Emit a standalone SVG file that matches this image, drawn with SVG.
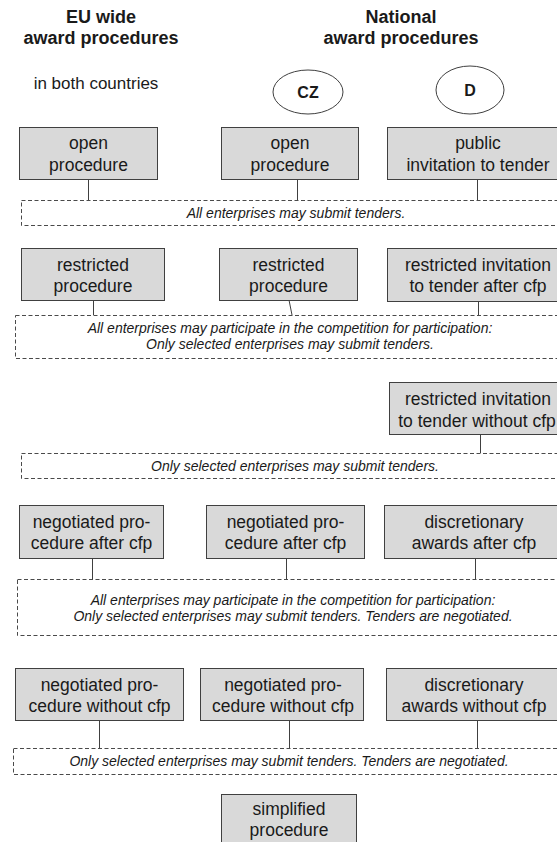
<svg xmlns="http://www.w3.org/2000/svg" width="557" height="842" viewBox="0 0 557 842">
<style>
  text { font-family: "Liberation Sans", Arial, sans-serif; fill: #1a1a1a; text-anchor: middle; }
  .hd { font-size: 18px; font-weight: bold; }
  .sub { font-size: 17px; }
  .cc { font-size: 16px; font-weight: bold; }
  .bx { fill: #d9d9d9; stroke: #404040; stroke-width: 1; }
  .bt { font-size: 17.5px; }
  .ell { fill: #ffffff; stroke: #404040; stroke-width: 1; }
  .dash { fill: none; stroke: #4a4a4a; stroke-width: 1; stroke-dasharray: 4 2.5; }
  .dt { font-size: 14px; font-style: italic; }
  .con { stroke: #404040; stroke-width: 1; fill: none; }
</style>
<rect x="0" y="0" width="557" height="842" fill="#ffffff"/>

<g id="headers">
  <text class="hd" x="101" y="23">EU wide</text>
  <text class="hd" x="101" y="44">award procedures</text>
  <text class="hd" x="401" y="23">National</text>
  <text class="hd" x="401" y="44">award procedures</text>
  <text class="sub" x="96" y="89">in both countries</text>
</g>

<g id="cz">
  <ellipse class="ell" cx="308" cy="92" rx="35" ry="22"/>
  <text class="cc" x="308" y="98">CZ</text>
</g>
<g id="d">
  <ellipse class="ell" cx="470" cy="90" rx="34" ry="24"/>
  <text class="cc" x="470" y="96">D</text>
</g>

<g id="connectors">
  <line class="con" x1="88.5" y1="179" x2="88.5" y2="200"/>
  <line class="con" x1="297.5" y1="179" x2="297.5" y2="200"/>
  <line class="con" x1="477.5" y1="179" x2="477.5" y2="200"/>
  <line class="con" x1="93.5" y1="300" x2="93.5" y2="315"/>
  <line class="con" x1="289" y1="300" x2="292" y2="315"/>
  <line class="con" x1="478.5" y1="301" x2="478.5" y2="315"/>
  <line class="con" x1="480.5" y1="434" x2="480.5" y2="453"/>
  <line class="con" x1="92.5" y1="558" x2="92.5" y2="579"/>
  <line class="con" x1="286.5" y1="558" x2="286.5" y2="579"/>
  <line class="con" x1="475.5" y1="558" x2="475.5" y2="579"/>
  <line class="con" x1="99.5" y1="720" x2="99.5" y2="748"/>
  <line class="con" x1="289.5" y1="720" x2="289.5" y2="748"/>
  <line class="con" x1="477.5" y1="720" x2="477.5" y2="748"/>
</g>

<g id="eu-open">
  <rect class="bx" x="19.5" y="127.5" width="138" height="52"/>
  <text class="bt" x="88.5" y="149">open</text>
  <text class="bt" x="88.5" y="171">procedure</text>
</g>
<g id="cz-open">
  <rect class="bx" x="221.5" y="127.5" width="137" height="52"/>
  <text class="bt" x="290" y="149">open</text>
  <text class="bt" x="290" y="171">procedure</text>
</g>
<g id="d-public">
  <rect class="bx" x="387.5" y="127.5" width="185" height="52"/>
  <text class="bt" x="478" y="149">public</text>
  <text class="bt" x="478" y="171">invitation to tender</text>
</g>
<g id="note-open">
  <rect class="dash" x="21.5" y="200.5" width="550" height="25"/>
  <text class="dt" x="296" y="218">All enterprises may submit tenders.</text>
</g>

<g id="eu-restricted">
  <rect class="bx" x="21.5" y="248.5" width="143" height="52"/>
  <text class="bt" x="93" y="271">restricted</text>
  <text class="bt" x="93" y="292">procedure</text>
</g>
<g id="cz-restricted">
  <rect class="bx" x="219.5" y="248.5" width="138" height="52"/>
  <text class="bt" x="288.5" y="271">restricted</text>
  <text class="bt" x="288.5" y="292">procedure</text>
</g>
<g id="d-restricted">
  <rect class="bx" x="387.5" y="248.5" width="185" height="53"/>
  <text class="bt" x="478" y="271">restricted invitation</text>
  <text class="bt" x="478" y="292">to tender after cfp</text>
</g>
<g id="note-restricted">
  <rect class="dash" x="15.5" y="315.5" width="556" height="43"/>
  <text class="dt" x="290" y="333">All enterprises may participate in the competition for participation:</text>
  <text class="dt" x="290" y="349">Only selected enterprises may submit tenders.</text>
</g>

<g id="d-restricted-nocfp">
  <rect class="bx" x="389.5" y="382.5" width="185" height="52"/>
  <text class="bt" x="478" y="405">restricted invitation</text>
  <text class="bt" x="477" y="427">to tender without cfp</text>
</g>
<g id="note-restricted-nocfp">
  <rect class="dash" x="21.5" y="453.5" width="550" height="25"/>
  <text class="dt" x="295" y="471">Only selected enterprises may submit tenders.</text>
</g>

<g id="eu-negotiated">
  <rect class="bx" x="19.5" y="505.5" width="144" height="53"/>
  <text class="bt" x="91.5" y="528">negotiated pro-</text>
  <text class="bt" x="91.5" y="549">cedure after cfp</text>
</g>
<g id="cz-negotiated">
  <rect class="bx" x="206.5" y="505.5" width="158" height="53"/>
  <text class="bt" x="285.5" y="528">negotiated pro-</text>
  <text class="bt" x="285.5" y="549">cedure after cfp</text>
</g>
<g id="d-discretionary">
  <rect class="bx" x="384.5" y="505.5" width="185" height="53"/>
  <text class="bt" x="474" y="528">discretionary</text>
  <text class="bt" x="474" y="549">awards after cfp</text>
</g>
<g id="note-negotiated">
  <rect class="dash" x="17.5" y="579.5" width="554" height="56"/>
  <text class="dt" x="293" y="605">All enterprises may participate in the competition for participation:</text>
  <text class="dt" x="293" y="621">Only selected enterprises may submit tenders. Tenders are negotiated.</text>
</g>

<g id="eu-negotiated-nocfp">
  <rect class="bx" x="15.5" y="668.5" width="168" height="52"/>
  <text class="bt" x="99.5" y="691">negotiated pro-</text>
  <text class="bt" x="99.5" y="712">cedure without cfp</text>
</g>
<g id="cz-negotiated-nocfp">
  <rect class="bx" x="200.5" y="668.5" width="163" height="52"/>
  <text class="bt" x="283" y="691">negotiated pro-</text>
  <text class="bt" x="283" y="712">cedure without cfp</text>
</g>
<g id="d-discretionary-nocfp">
  <rect class="bx" x="386.5" y="668.5" width="180" height="52"/>
  <text class="bt" x="474" y="691">discretionary</text>
  <text class="bt" x="474" y="712">awards without cfp</text>
</g>
<g id="note-negotiated-nocfp">
  <rect class="dash" x="13.5" y="748.5" width="558" height="26"/>
  <text class="dt" x="289" y="766">Only selected enterprises may submit tenders. Tenders are negotiated.</text>
</g>

<g id="cz-simplified">
  <rect class="bx" x="221.5" y="794.5" width="135" height="60"/>
  <text class="bt" x="289" y="815">simplified</text>
  <text class="bt" x="289" y="836">procedure</text>
</g>
</svg>
